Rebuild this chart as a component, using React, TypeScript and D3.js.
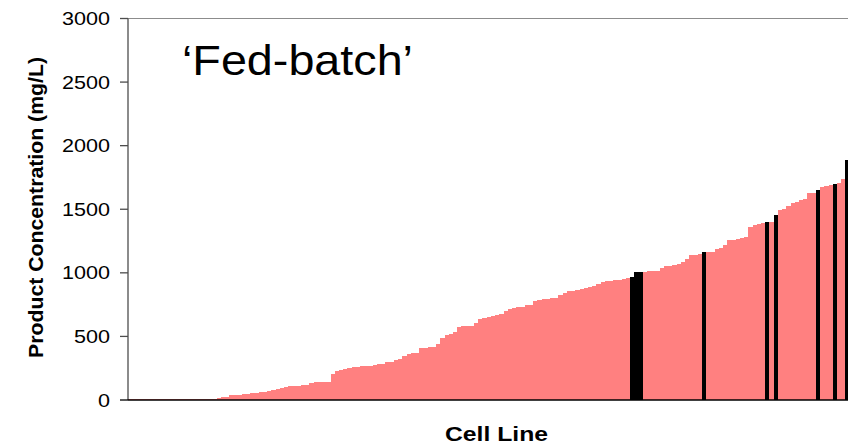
import React, { useEffect, useRef } from 'react';
import * as d3 from 'd3';

// product concentration (mg/L) per cell line, sorted ascending
const concentrations = [
  8, 8, 8, 8, 8, 8, 8, 8, 8, 8, 9, 9, 9, 9, 9, 10, 10, 10, 10, 10, 11,
  14, 20, 24, 36, 40, 42, 44, 50, 52, 54, 62, 66, 72, 80, 88, 95, 102,
  110, 112, 114, 116, 120, 136, 140, 141, 142, 143, 204, 225, 232, 242,
  250, 256, 260, 264, 267, 270, 275, 280, 286, 298, 302, 316, 322, 345,
  362, 367, 370, 408, 412, 414, 418, 440, 489, 510, 518, 534, 575, 578,
  580, 584, 607, 634, 648, 654, 660, 672, 680, 699, 715, 724, 728, 732,
  745, 750, 778, 788, 791, 794, 800, 804, 822, 843, 855, 860, 866, 870,
  882, 892, 897, 911, 925, 932, 937, 941, 944, 955, 962, 971, 1003, 1005,
  1010, 1014, 1016, 1018, 1039, 1050, 1055, 1058, 1066, 1086, 1110, 1140,
  1144, 1148, 1160, 1163, 1166, 1186, 1192, 1215, 1258, 1262, 1265, 1274,
  1280, 1361, 1376, 1383, 1393, 1403, 1400, 1453, 1495, 1502, 1526, 1550,
  1556, 1572, 1580, 1624, 1630, 1655, 1678, 1684, 1688, 1699, 1707, 1741,
  1890,
];

// cell lines drawn in black
const highlighted = [119, 120, 121, 136, 151, 153, 163, 167, 170];

const yTicks = [0, 500, 1000, 1500, 2000, 2500, 3000];

const font = '"Liberation Sans", Arial, sans-serif';

export default function App() {
  const ref = useRef<SVGSVGElement>(null);

  useEffect(() => {
    const svg = d3.select(ref.current);
    svg.selectAll('*').remove();

    const left = 128;
    const barW = 4.22;
    const x = d3
      .scaleBand<number>()
      .domain(concentrations.map((d, i) => i))
      .range([left, left + concentrations.length * barW])
      .padding(0);
    const y = d3.scaleLinear().domain([0, 3000]).range([400, 18.5]);

    // top border of plot area
    svg.append('line')
      .attr('x1', left).attr('x2', 848)
      .attr('y1', y(3000)).attr('y2', y(3000))
      .attr('stroke', '#8c8c8c').attr('stroke-width', 1);

    svg.append('g')
      .selectAll('rect')
      .data(concentrations)
      .enter()
      .append('rect')
      .attr('x', (d, i) => x(i) as number)
      .attr('width', x.bandwidth() + 0.15)
      .attr('y', (d) => y(d))
      .attr('height', (d) => y(0) - y(d))
      .attr('fill', (d, i) => (highlighted.includes(i) ? '#000000' : '#ff8080'))
      .attr('shape-rendering', 'crispEdges');

    // y axis
    svg.append('line')
      .attr('x1', left).attr('x2', left)
      .attr('y1', y(3000)).attr('y2', y(0))
      .attr('stroke', '#4d4d4d').attr('stroke-width', 1.3);

    const tick = svg.append('g').selectAll('g').data(yTicks).enter().append('g');
    tick.append('line')
      .attr('x1', left - 8).attr('x2', left)
      .attr('y1', (d) => y(d)).attr('y2', (d) => y(d))
      .attr('stroke', (d) => (d === 0 ? '#000' : '#4d4d4d'))
      .attr('stroke-width', 1.3);
    tick.append('text')
      .attr('x', 110)
      .attr('y', (d) => y(d) + 6.5)
      .attr('text-anchor', 'end')
      .attr('textLength', (d) => String(d).length * 12)
      .attr('lengthAdjust', 'spacingAndGlyphs')
      .style('font-family', font)
      .style('font-size', '18px')
      .style('fill', '#000')
      .text((d) => d);

    // x axis
    svg.append('line')
      .attr('x1', left).attr('x2', 848)
      .attr('y1', y(0)).attr('y2', y(0))
      .attr('stroke', '#000').attr('stroke-width', 1.5);

    svg.append('text')
      .attr('x', 496.5)
      .attr('y', 441)
      .attr('text-anchor', 'middle')
      .attr('textLength', 103)
      .attr('lengthAdjust', 'spacingAndGlyphs')
      .style('font-family', font)
      .style('font-size', '21px')
      .style('font-weight', 'bold')
      .text('Cell Line');

    svg.append('text')
      .attr('transform', 'translate(43,207.5) rotate(-90)')
      .attr('text-anchor', 'middle')
      .attr('textLength', 301)
      .attr('lengthAdjust', 'spacingAndGlyphs')
      .style('font-family', font)
      .style('font-size', '21px')
      .style('font-weight', 'bold')
      .text('Product Concentration (mg/L)');

    svg.append('text')
      .attr('x', 182)
      .attr('y', 75)
      .attr('textLength', 231)
      .attr('lengthAdjust', 'spacingAndGlyphs')
      .style('font-family', font)
      .style('font-size', '42px')
      .text('\u2018Fed-batch\u2019');
  }, []);

  return (
    <svg
      ref={ref}
      width={848}
      height={446}
      style={{ position: 'absolute', left: 0, top: 0, background: '#fff' }}
    />
  );
}
